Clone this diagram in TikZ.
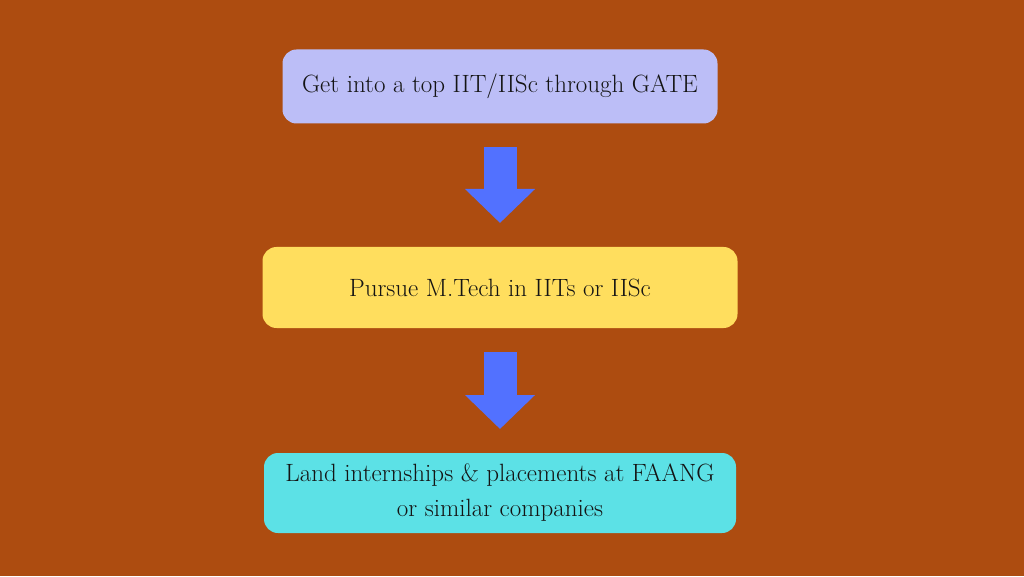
\documentclass[tikz,border=0pt]{standalone}
\usepackage{amsmath}
\usepackage{amssymb}
\usepackage{tikz}
\usetikzlibrary{arrows.meta}

\definecolor{bgbrown}{HTML}{AD4C10}
\definecolor{lavender}{HTML}{BCBEF7}
\definecolor{sunyellow}{HTML}{FFDE5E}
\definecolor{skycyan}{HTML}{5CE1E6}
\definecolor{arrowblue}{HTML}{5271FF}
\definecolor{inkdark}{HTML}{141414}

\begin{document}
\begin{tikzpicture}
[x=1pt,y=1pt]
\tikzstyle{step box}=[rectangle,rounded corners=14pt,inner sep=0,outer sep=0,text=inkdark,align=center,font=\fontsize{25}{35}\selectfont]
\tikzstyle{down arrow}=[draw=arrowblue,line width=33pt,shorten <=24pt,shorten >=24pt,-{Triangle[width=68pt,length=34pt]}]

\fill[bgbrown](0,0)rectangle(1024,576);

\node(1)[step box,fill=lavender,minimum width=435pt,minimum height=74pt]at(500,489.5){Get into a top IIT/IISc through GATE};
\node(2)[step box,fill=sunyellow,minimum width=475pt,minimum height=81pt]at(500,288.5){Pursue M.Tech in IITs or IISc};
\node(3)[step box,fill=skycyan,minimum width=472pt,minimum height=80pt]at(500,83){Land internships \& placements at FAANG\\or similar companies};

\draw[down arrow](1.south)--(2.north);
\draw[down arrow](2.south)--(3.north);
\end{tikzpicture}
\end{document}
